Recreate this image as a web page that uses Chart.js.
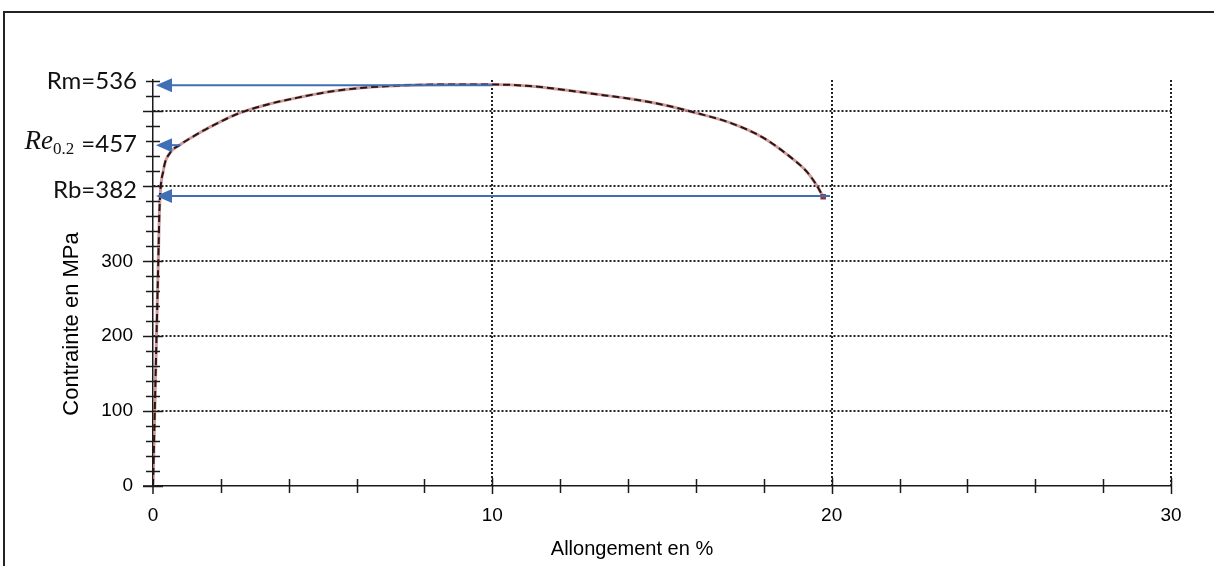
<!DOCTYPE html>
<html><head><meta charset="utf-8">
<script src="https://cdn.jsdelivr.net/npm/chart.js@4.4.0/dist/chart.umd.min.js"></script>
<style>html,body{margin:0;padding:0;background:#fff;}#wrap{position:relative;width:1214px;height:566px;}canvas{display:block;}</style>
</head><body><div id="wrap"><canvas id="c" width="1214" height="566"></canvas></div>
<script>
// Tensile curve (strain %, stress MPa)
const strain = [0, 0.17, 0.19, 0.31, 0.49, 0.78, 1.2, 1.8, 2.5, 3.43, 4.32, 5.29, 6.29, 7.47, 8.74, 10.0, 11.1, 12.08, 13.07, 14.05, 15.03, 16.01, 17.0, 17.98, 18.76, 19.26, 19.55, 19.75];
const stress = [0, 328, 368, 422, 444, 455, 467, 482, 497, 510, 519, 527, 532, 535, 536, 536, 534, 529, 523, 517, 509, 498, 485, 465, 440, 420, 402, 386];

const xTickValues = [0, 10, 20, 30];
const xTickLabels = ['0', '10', '20', '30'];
const yTickValues = [0, 100, 200, 300, 400, 500];
const yTickLabels = ['0', '100', '200', '300', '', ''];

// Annotated characteristic values
const markerNames = ['Rm=536', '=457', 'Rb=382'];
const markerStress = [535, 455, 387];
const markerStrainFrom = [10, 0.8, 19.95];

const xTitle = 'Allongement en %';
const yTitle = 'Contrainte en MPa';

const pts = strain.map((s, i) => ({x: s, y: stress[i]}));

function line(ctx, x1, y1, x2, y2) { ctx.beginPath(); ctx.moveTo(x1, y1); ctx.lineTo(x2, y2); ctx.stroke(); }

const overlay = {
  id: 'overlay',
  beforeDraw(chart) {
    const ctx = chart.ctx;
    ctx.save();
    ctx.fillStyle = '#fff';
    ctx.fillRect(0, 0, chart.width, chart.height);
    ctx.strokeStyle = '#222';
    ctx.lineWidth = 2;
    line(ctx, 3, 12, chart.width, 12);
    line(ctx, 4, 11, 4, chart.height);
    ctx.restore();
  },
  afterDraw(chart) {
    const {ctx, scales: {x, y}} = chart;
    const x0 = x.getPixelForValue(0), y0 = y.getPixelForValue(0);
    ctx.save();
    ctx.strokeStyle = '#1a1a1a';
    ctx.lineWidth = 1.5;
    line(ctx, x0, y0, x0, y0 + 8);
    line(ctx, x0 - 10, y0, x0, y0);
    for (let v = 0; v <= y.max; v += 20) {
      const py = Math.round(y.getPixelForValue(v)) + 0.5;
      const h = (v % 100 === 0) ? 10 : 7;
      line(ctx, x0 - h, py, x0 + h, py);
    }
    for (let v = 2; v <= x.max; v += 2) {
      const px = Math.round(x.getPixelForValue(v)) + 0.5;
      const d = (v % 10 === 0) ? 8 : 7;
      line(ctx, px, y0 - d, px, y0 + d);
    }
    // arrows
    ctx.strokeStyle = '#3f6fb5';
    ctx.fillStyle = '#3f6fb5';
    ctx.lineWidth = 2;
    markerStress.forEach((s, i) => {
      const py = y.getPixelForValue(s);
      const xs = x.getPixelForValue(markerStrainFrom[i]);
      const tip = x0 + 3;
      line(ctx, xs, py, tip + 12, py);
      ctx.beginPath();
      ctx.moveTo(tip, py);
      ctx.lineTo(tip + 16, py - 7);
      ctx.lineTo(tip + 16, py + 7);
      ctx.closePath();
      ctx.fill();
    });
    // labels
    ctx.fillStyle = '#111';
    ctx.textBaseline = 'middle';
    ctx.textAlign = 'right';
    ctx.font = '24px Lato';
    const rx = 137;
    ctx.fillText(markerNames[0], rx, y.getPixelForValue(markerStress[0]) - 4);
    ctx.fillText(markerNames[2], rx, y.getPixelForValue(markerStress[2]) - 6);
    const yRe = y.getPixelForValue(markerStress[1]) - 1;
    ctx.fillText(markerNames[1], rx, yRe);
    const w = ctx.measureText(markerNames[1]).width;
    let left = rx - w - 7;
    ctx.font = '17px "Liberation Serif"';
    ctx.fillText('0.2', left, yRe + 5);
    left -= ctx.measureText('0.2').width;
    ctx.font = 'italic 27px "Liberation Serif"';
    ctx.fillText('Re', left, yRe - 2);
    // axis titles
    ctx.textAlign = 'center';
    ctx.fillStyle = '#000';
    ctx.font = '20px "Liberation Sans"';
    ctx.fillText(xTitle, 632, 549);
    ctx.save();
    ctx.translate(72, 324);
    ctx.rotate(-Math.PI / 2);
    ctx.font = '22px "Liberation Sans"';
    ctx.fillText(yTitle, 0, 0);
    ctx.restore();
    ctx.restore();
  }
};

new Chart(document.getElementById('c'), {
  type: 'scatter',
  data: {
    datasets: [
      {data: pts, showLine: true, borderColor: '#2a1414', borderWidth: 2, borderDash: [7, 4],
       pointRadius: strain.map((s, i) => i === strain.length - 1 ? 2.5 : 0), pointStyle: 'rect',
       pointBackgroundColor: '#8a3a3a', pointBorderColor: '#8a3a3a', cubicInterpolationMode: 'monotone'},
      {data: pts, showLine: true, borderColor: 'rgba(190,120,120,0.75)', borderWidth: 3,
       pointRadius: 0, cubicInterpolationMode: 'monotone'}
    ]
  },
  options: {
    responsive: false, animation: false, devicePixelRatio: 1,
    layout: {padding: {left: 0, right: 43, top: 80, bottom: 0}},
    plugins: {legend: {display: false}, tooltip: {enabled: false}},
    scales: {
      x: {
        type: 'linear', min: 0, max: 30,
        afterBuildTicks: s => { s.ticks = xTickValues.map(v => ({value: v})); },
        afterFit: s => { s.height = 80; },
        ticks: {callback: v => { const i = xTickValues.indexOf(v); return i >= 0 ? xTickLabels[i] : ''; },
                color: '#000', font: {family: 'Liberation Sans', size: 19}, padding: 18, maxRotation: 0},
        grid: {color: c => (c.tick && c.tick.value === 0) ? 'rgba(0,0,0,0)' : '#222', lineWidth: 2, drawTicks: false},
        border: {display: true, color: '#1a1a1a', width: 1.5, dash: [2, 2]}
      },
      y: {
        type: 'linear', min: 0, max: 542,
        afterBuildTicks: s => { s.ticks = yTickValues.map(v => ({value: v})); },
        afterFit: s => { s.width = 153; },
        ticks: {callback: v => { const i = yTickValues.indexOf(v); return i >= 0 ? yTickLabels[i] : ''; },
                color: '#000', font: {family: 'Liberation Sans', size: 19}, padding: 20},
        grid: {color: c => (c.tick && c.tick.value === 0) ? 'rgba(0,0,0,0)' : '#222', lineWidth: 2, drawTicks: false},
        border: {display: true, color: '#1a1a1a', width: 1.5, dash: [2, 2]}
      }
    }
  },
  plugins: [overlay]
});
</script></body></html>
